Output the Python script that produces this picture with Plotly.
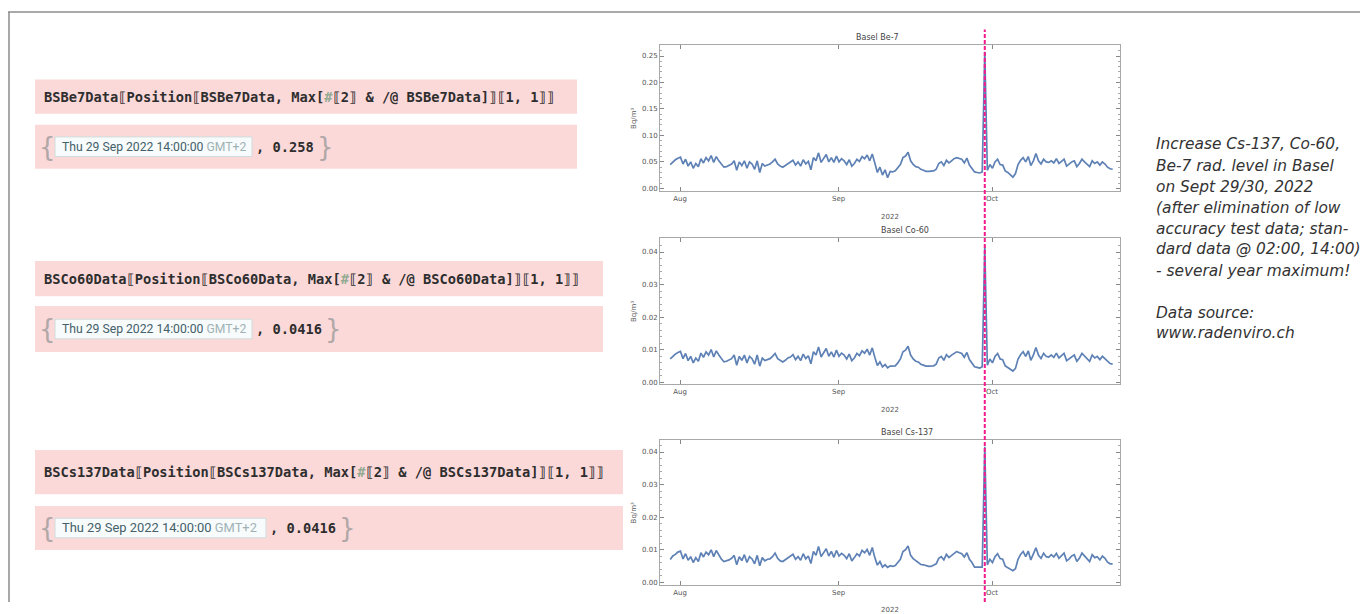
import plotly.graph_objects as go
import pandas as pd

# ---------------- data ----------------
times = pd.date_range("2022-07-30 02:00", periods=174, freq="12h")

be7 = [
    0.045, 0.050, 0.054, 0.057, 0.059, 0.046, 0.055, 0.042, 0.050, 0.038,
    0.047, 0.041, 0.056, 0.048, 0.058, 0.052, 0.062, 0.049, 0.060, 0.052,
    0.045, 0.040, 0.041, 0.044, 0.046, 0.052, 0.034, 0.050, 0.043, 0.052,
    0.038, 0.050, 0.046, 0.036, 0.052, 0.030, 0.047, 0.042, 0.044, 0.046,
    0.050, 0.055, 0.046, 0.042, 0.040, 0.043, 0.047, 0.049, 0.053, 0.044,
    0.050, 0.042, 0.054, 0.046, 0.051, 0.035, 0.058, 0.052, 0.067, 0.049,
    0.057, 0.064, 0.050, 0.058, 0.049, 0.061, 0.050, 0.056, 0.052, 0.045,
    0.054, 0.042, 0.047, 0.055, 0.051, 0.060, 0.056, 0.063, 0.052, 0.065,
    0.048, 0.030, 0.040, 0.025, 0.035, 0.020, 0.032, 0.031, 0.033, 0.038,
    0.045, 0.058, 0.061, 0.068, 0.052, 0.045, 0.041, 0.040, 0.036, 0.034,
    0.032, 0.032, 0.032, 0.033, 0.036, 0.047, 0.050, 0.043, 0.053, 0.048,
    0.052, 0.056, 0.058, 0.057, 0.055, 0.048, 0.057, 0.044, 0.038, 0.031,
    0.030, 0.029, 0.031, 0.258, 0.034, 0.045, 0.038, 0.050, 0.055, 0.045,
    0.044, 0.033, 0.030, 0.026, 0.021, 0.028, 0.045, 0.053, 0.058, 0.050,
    0.060, 0.043, 0.052, 0.066, 0.052, 0.046, 0.055, 0.050, 0.049, 0.052,
    0.048, 0.056, 0.047, 0.051, 0.055, 0.042, 0.046, 0.050, 0.052, 0.041,
    0.047, 0.055, 0.050, 0.046, 0.041, 0.052, 0.047, 0.050, 0.044, 0.050,
    0.046, 0.040, 0.037, 0.036,
]

co60 = [
    0.0072, 0.0080, 0.0087, 0.0092, 0.0095, 0.0073, 0.0089, 0.0067, 0.0080, 0.0060,
    0.0075, 0.0065, 0.0090, 0.0077, 0.0094, 0.0084, 0.0101, 0.0078, 0.0097, 0.0084,
    0.0072, 0.0063, 0.0065, 0.0070, 0.0073, 0.0084, 0.0053, 0.0080, 0.0068, 0.0084,
    0.0060, 0.0080, 0.0073, 0.0056, 0.0084, 0.0050, 0.0075, 0.0067, 0.0070, 0.0073,
    0.0080, 0.0089, 0.0073, 0.0067, 0.0063, 0.0068, 0.0075, 0.0078, 0.0085, 0.0070,
    0.0080, 0.0067, 0.0087, 0.0073, 0.0082, 0.0057, 0.0094, 0.0084, 0.0109, 0.0078,
    0.0092, 0.0104, 0.0080, 0.0094, 0.0078, 0.0099, 0.0080, 0.0090, 0.0084, 0.0072,
    0.0087, 0.0067, 0.0075, 0.0089, 0.0082, 0.0097, 0.0090, 0.0102, 0.0084, 0.0106,
    0.0077, 0.0052, 0.0063, 0.0048, 0.0055, 0.0045, 0.0050, 0.0050, 0.0051, 0.0060,
    0.0072, 0.0094, 0.0099, 0.0111, 0.0084, 0.0072, 0.0065, 0.0063, 0.0056, 0.0053,
    0.0050, 0.0050, 0.0050, 0.0051, 0.0056, 0.0075, 0.0080, 0.0068, 0.0085, 0.0077,
    0.0084, 0.0090, 0.0094, 0.0092, 0.0089, 0.0077, 0.0092, 0.0070, 0.0060, 0.0048,
    0.0046, 0.0044, 0.0048, 0.0416, 0.0053, 0.0072, 0.0060, 0.0080, 0.0089, 0.0072,
    0.0070, 0.0051, 0.0046, 0.0040, 0.0035, 0.0043, 0.0072, 0.0085, 0.0094, 0.0080,
    0.0097, 0.0068, 0.0084, 0.0107, 0.0084, 0.0073, 0.0089, 0.0080, 0.0078, 0.0084,
    0.0077, 0.0090, 0.0075, 0.0082, 0.0089, 0.0067, 0.0073, 0.0080, 0.0084, 0.0065,
    0.0075, 0.0089, 0.0080, 0.0073, 0.0065, 0.0084, 0.0075, 0.0080, 0.0070, 0.0080,
    0.0073, 0.0063, 0.0058, 0.0056,
]

cs137 = [
    0.0070, 0.0081, 0.0086, 0.0093, 0.0096, 0.0072, 0.0088, 0.0068, 0.0079, 0.0061,
    0.0076, 0.0064, 0.0091, 0.0078, 0.0093, 0.0085, 0.0100, 0.0079, 0.0098, 0.0083,
    0.0071, 0.0064, 0.0066, 0.0069, 0.0074, 0.0083, 0.0054, 0.0079, 0.0067, 0.0085,
    0.0061, 0.0079, 0.0072, 0.0057, 0.0083, 0.0051, 0.0076, 0.0066, 0.0071, 0.0072,
    0.0079, 0.0090, 0.0074, 0.0066, 0.0064, 0.0069, 0.0074, 0.0079, 0.0086, 0.0071,
    0.0079, 0.0068, 0.0088, 0.0072, 0.0081, 0.0058, 0.0095, 0.0083, 0.0110, 0.0079,
    0.0091, 0.0103, 0.0081, 0.0095, 0.0077, 0.0098, 0.0081, 0.0089, 0.0083, 0.0073,
    0.0088, 0.0066, 0.0076, 0.0088, 0.0081, 0.0098, 0.0091, 0.0101, 0.0083, 0.0107,
    0.0076, 0.0053, 0.0064, 0.0047, 0.0054, 0.0046, 0.0051, 0.0049, 0.0052, 0.0061,
    0.0071, 0.0095, 0.0100, 0.0112, 0.0083, 0.0073, 0.0066, 0.0062, 0.0055, 0.0054,
    0.0051, 0.0049, 0.0049, 0.0052, 0.0057, 0.0074, 0.0079, 0.0069, 0.0086, 0.0076,
    0.0083, 0.0091, 0.0095, 0.0091, 0.0088, 0.0078, 0.0091, 0.0071, 0.0061, 0.0047,
    0.0047, 0.0045, 0.0047, 0.0416, 0.0054, 0.0071, 0.0061, 0.0079, 0.0088, 0.0073,
    0.0071, 0.0050, 0.0045, 0.0041, 0.0036, 0.0042, 0.0071, 0.0086, 0.0095, 0.0079,
    0.0096, 0.0069, 0.0085, 0.0106, 0.0083, 0.0074, 0.0090, 0.0079, 0.0077, 0.0085,
    0.0078, 0.0089, 0.0074, 0.0083, 0.0090, 0.0066, 0.0072, 0.0081, 0.0085, 0.0064,
    0.0074, 0.0090, 0.0081, 0.0072, 0.0064, 0.0085, 0.0076, 0.0079, 0.0069, 0.0081,
    0.0074, 0.0062, 0.0057, 0.0057,
]

titles = ["Basel Be-7", "Basel Co-60", "Basel Cs-137"]
names = ["BSBe7Data", "BSCo60Data", "BSCs137Data"]
max_values = ["0.258", "0.0416", "0.0416"]
max_time_label = "Thu 29 Sep 2022 14:00:00"
max_time = "2022-09-29 14:00"
month_ticks = ["2022-08-01", "2022-09-01", "2022-10-01"]
month_labels = ["Aug", "Sep", "Oct"]
note_lines = [
    "Increase Cs-137, Co-60,",
    "Be-7 rad. level in Basel",
    "on Sept 29/30, 2022",
    "(after elimination of low",
    "accuracy test data; stan-",
    "dard data @ 02:00, 14:00)",
    "- several year maximum!",
    "Data source:",
    "www.radenviro.ch",
]

# ---------------- layout helpers ----------------
# The page body keeps its default 8px margin, so the figure starts at (8, 8)
# on screen; screen pixel positions are converted to paper coordinates here.
OFF = 8
W, H = 1360, 606


def px(x):
    return (x - OFF) / W


def py(y):
    return 1 - (y - OFF) / H


LINE_COLOR = "#5e81b5"
FRAME = "#a8a8a8"
TICKF = dict(size=7, color="#555555", family="DejaVu Sans")

frames = [(46, 195), (243, 392), (449, 597)]
yranges = [[-0.0056, 0.2704], [-0.0006, 0.0442], [-0.0009, 0.0436]]
ydticks = [0.05, 0.01, 0.01]
yminor = [0.01, 0.002, 0.002]
series = [be7, co60, cs137]
title_x = [878, 905, 907]

fig = go.Figure()
for i in range(3):
    sfx = "" if i == 0 else str(i + 1)
    fig.add_trace(go.Scatter(
        x=times, y=series[i], mode="lines",
        line=dict(color=LINE_COLOR, width=1.7),
        xaxis="x" + sfx, yaxis="y" + sfx, hoverinfo="skip",
    ))
    top, bot = frames[i]
    fig.layout["xaxis" + sfx] = dict(
        domain=[px(660), px(1120)], anchor="y" + sfx,
        type="date", range=["2022-07-28 02:00", "2022-10-26 00:30"],
        tickvals=month_ticks, ticktext=month_labels,
        ticks="inside", ticklen=4, tickcolor="#888888", tickwidth=1,
        showline=True, linecolor=FRAME, linewidth=1, mirror="ticks",
        showgrid=False, zeroline=False, tickfont=TICKF,
        title=dict(text="2022", font=TICKF, standoff=12),
    )
    fig.layout["yaxis" + sfx] = dict(
        domain=[py(bot), py(top)], anchor="x" + sfx,
        range=yranges[i], dtick=ydticks[i], tick0=0, tickformat=".2f",
        ticks="inside", ticklen=4, tickcolor="#888888", tickwidth=1,
        minor=dict(dtick=yminor[i], ticks="inside", ticklen=2, tickcolor="#aaaaaa"),
        showline=True, linecolor=FRAME, linewidth=1, mirror="ticks",
        showgrid=False, zeroline=False, tickfont=TICKF,
        title=dict(text="Bq/m³", font=TICKF, standoff=4),
    )

annotations = []
shapes = []

for i in range(3):
    annotations.append(dict(
        x=px(title_x[i]), y=py(frames[i][0]), xref="paper", yref="paper",
        text=titles[i], showarrow=False, xanchor="center", yanchor="bottom",
        yshift=1, font=dict(size=8, color="#444444", family="DejaVu Sans"),
    ))

# outer border
shapes.append(dict(type="line", xref="paper", yref="paper", x0=0, x1=1,
                   y0=py(12), y1=py(12), line=dict(color="#8c8c8c", width=1.5)))
shapes.append(dict(type="line", xref="paper", yref="paper", x0=px(9), x1=px(9),
                   y0=0, y1=py(12), line=dict(color="#8c8c8c", width=1.5)))
shapes.append(dict(type="line", xref="paper", yref="paper", x0=px(1365), x1=px(1365),
                   y0=0, y1=py(12), line=dict(color="#8c8c8c", width=1.5)))

PINK = "#fcd9d9"
code_boxes = [(81, 116), (266, 302), (459, 504)]
res_boxes = [(127, 172), (312, 359), (516, 561)]
box_right = [577, 603, 623]
date_box_right = [252, 252, 266]
date_font_size = [12.2, 12.2, 12.9]
CODE_FONT = dict(family="DejaVu Sans Mono", size=13.7, color="#2e2e2e", weight="bold")

for i in range(3):
    ct, cb = code_boxes[i]
    rt, rb = res_boxes[i]
    shapes.append(dict(type="rect", xref="paper", yref="paper", layer="below",
                       x0=px(35), x1=px(box_right[i]), y0=py(cb), y1=py(ct),
                       fillcolor=PINK, line=dict(width=0)))
    shapes.append(dict(type="rect", xref="paper", yref="paper", layer="below",
                       x0=px(35), x1=px(box_right[i]), y0=py(rb), y1=py(rt),
                       fillcolor=PINK, line=dict(width=0)))
    n = names[i]
    code = (f"{n}⟦Position⟦{n}, Max[<span style='color:#93aa93'>#</span>⟦2⟧ "
            f"&amp; /@ {n}]⟧⟦1, 1⟧⟧")
    annotations.append(dict(
        x=px(42), y=py((ct + cb) / 2), xref="paper", yref="paper", text=code,
        showarrow=False, xanchor="left", yanchor="middle", font=CODE_FONT,
    ))
    yc = (rt + rb) / 2
    shapes.append(dict(type="rect", xref="paper", yref="paper",
                       x0=px(55), x1=px(date_box_right[i]), y0=py(yc + 10), y1=py(yc - 10),
                       fillcolor="#f7fbfb", line=dict(color="#cfdcdc", width=1)))
    annotations.append(dict(
        x=px(47), y=py(yc), xref="paper", yref="paper", text="{",
        showarrow=False, xanchor="center", yanchor="middle",
        font=dict(family="DejaVu Sans", size=26, color="#b0a8a8"),
    ))
    annotations.append(dict(
        x=px(60), y=py(yc), xref="paper", yref="paper",
        text=f"{max_time_label} <span style='color:#9fb2b6'>GMT+2</span>",
        showarrow=False, xanchor="left", yanchor="middle",
        font=dict(family="Roboto", size=date_font_size[i], color="#44606a"),
    ))
    annotations.append(dict(
        x=px(date_box_right[i] + 2), y=py(yc), xref="paper", yref="paper",
        text=f", {max_values[i]}", showarrow=False, xanchor="left", yanchor="middle",
        font=CODE_FONT,
    ))
    vlen = len(max_values[i]) + 2
    annotations.append(dict(
        x=px(date_box_right[i] + 5 + vlen * 8.25), y=py(yc), xref="paper", yref="paper",
        text="}", showarrow=False, xanchor="left", yanchor="middle",
        font=dict(family="DejaVu Sans", size=26, color="#b0a8a8"),
    ))

shapes.append(dict(type="line", xref="x", yref="paper", x0=max_time, x1=max_time,
                   y0=0, y1=py(30), line=dict(color="#f21a8c", width=2, dash="4px,2px")))

note_y = [147, 169, 191, 212, 233, 254, 276, 319, 340]
for t, yv in zip(note_lines, note_y):
    annotations.append(dict(
        x=px(1154), y=py(yv), xref="paper", yref="paper", text=t,
        showarrow=False, xanchor="left", yanchor="middle",
        font=dict(family="DejaVu Sans", size=15.4, color="#333333", style="italic"),
    ))

fig.update_layout(
    width=W, height=H, margin=dict(l=0, r=0, t=0, b=0),
    paper_bgcolor="white", plot_bgcolor="white", showlegend=False,
    annotations=annotations, shapes=shapes,
)

fig.write_html("out.html", config={"displayModeBar": False, "staticPlot": True})
